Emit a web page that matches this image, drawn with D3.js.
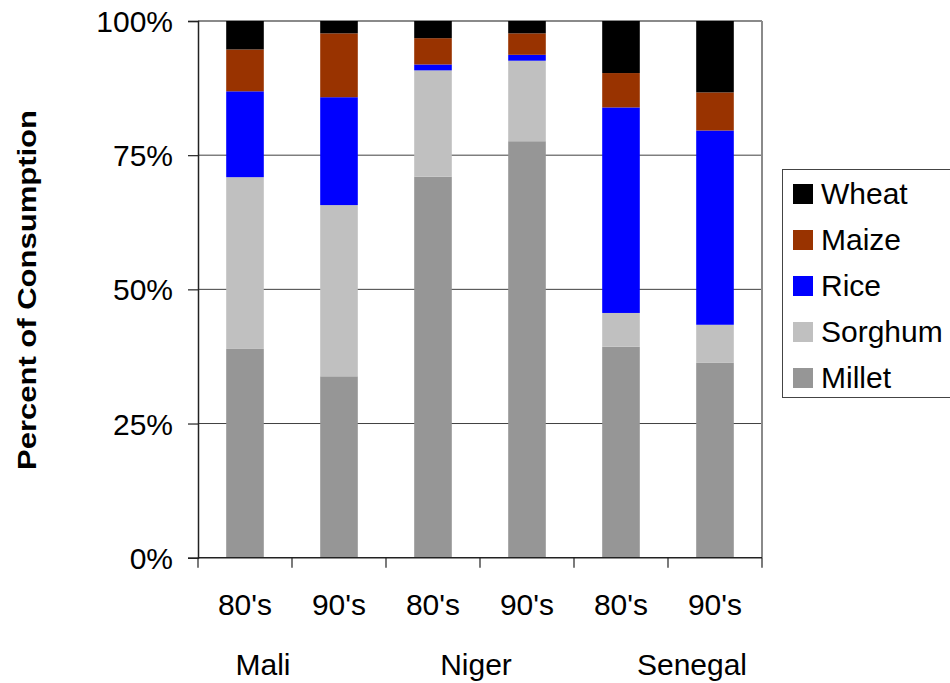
<!DOCTYPE html>
<html>
<head>
<meta charset="utf-8">
<script src="https://cdn.jsdelivr.net/npm/d3@7"></script>
<style>
  html, body { margin: 0; padding: 0; background: #fff; }
  svg { display: block; font-family: Arial, "Liberation Sans", sans-serif; }
</style>
</head>
<body>
<svg id="chart" width="950" height="683"></svg>
<script>
// ---- data ----
const decades = ["80's", "90's", "80's", "90's", "80's", "90's"];
const countries = ["Mali", "Niger", "Senegal"];
const countryOffsets = [-29, -4, 24];
const seriesNames = ["Millet", "Sorghum", "Rice", "Maize", "Wheat"];
const millet  = [38.9, 33.8, 71.0, 77.6, 39.3, 36.3];
const sorghum = [32.0, 31.9, 19.8, 15.0,  6.3,  7.1];
const rice    = [16.0, 20.1,  1.1,  1.1, 38.3, 36.2];
const maize   = [ 7.8, 11.9,  4.9,  4.0,  6.4,  7.1];
const wheat   = [ 5.3,  2.3,  3.2,  2.3,  9.7, 13.3];
const yTicks = [0, 25, 50, 75, 100];
const yTickLabels = ["0%", "25%", "50%", "75%", "100%"];
const colors = { Millet: "#969696", Sorghum: "#c0c0c0", Rice: "#0000ff", Maize: "#993300", Wheat: "#000000" };

const seriesValues = { Millet: millet, Sorghum: sorghum, Rice: rice, Maize: maize, Wheat: wheat };
const rows = decades.map((d, i) => {
  const r = { idx: i };
  seriesNames.forEach(s => r[s] = seriesValues[s][i]);
  return r;
});

// ---- layout ----
const L = 198, R = 762, T = 21, B = 557.7;
const svg = d3.select("#chart");

const x = d3.scaleBand().domain(d3.range(decades.length)).range([L, R])
  .paddingInner(0.6).paddingOuter(0.3);
const y = d3.scaleLinear().domain([0, 100]).range([B, T]);

// gridlines
svg.append("g").selectAll("line").data(yTicks.filter(t => t > 0 && t < 100)).join("line")
  .attr("x1", L).attr("x2", R).attr("y1", d => y(d)).attr("y2", d => y(d))
  .attr("stroke", "#404040").attr("stroke-width", 1);

// plot frame top/right
svg.append("line").attr("x1", L).attr("x2", R).attr("y1", T).attr("y2", T)
  .attr("stroke", "#8a8a8a").attr("stroke-width", 2);
svg.append("line").attr("x1", R).attr("x2", R).attr("y1", T).attr("y2", B)
  .attr("stroke", "#8a8a8a").attr("stroke-width", 2);

// bars
const stacked = d3.stack().keys(seriesNames)(rows);
svg.append("g").selectAll("g").data(stacked).join("g")
  .attr("fill", d => colors[d.key])
  .selectAll("rect").data(d => d).join("rect")
  .attr("x", d => x(d.data.idx))
  .attr("width", x.bandwidth())
  .attr("y", d => y(d[1]))
  .attr("height", d => y(d[0]) - y(d[1]));

// y axis
const yAxis = d3.axisLeft(y).tickValues(yTicks)
  .tickFormat((d, i) => yTickLabels[i]).tickSize(10).tickPadding(15);
const gy = svg.append("g").attr("transform", `translate(${L},0)`).call(yAxis);
gy.select(".domain").attr("stroke", "#222").attr("stroke-width", 1.5);
gy.selectAll(".tick line").attr("stroke", "#222").attr("stroke-width", 1.2);
gy.selectAll(".tick text").attr("font-size", 30).attr("fill", "#000")
  .attr("font-family", "Arial, 'Liberation Sans', sans-serif").attr("dy", "0.35em");

// x axis (ticks at category boundaries)
const bounds = d3.range(decades.length + 1).map(i => L + i * x.step());
const gx = svg.append("g");
gx.append("line").attr("x1", L).attr("x2", R).attr("y1", B).attr("y2", B)
  .attr("stroke", "#222").attr("stroke-width", 1.5);
gx.selectAll("line.tk").data(bounds).join("line").attr("class", "tk")
  .attr("x1", d => d).attr("x2", d => d).attr("y1", B).attr("y2", B + 10)
  .attr("stroke", "#222").attr("stroke-width", 1.2);
gx.selectAll("text.dec").data(decades).join("text").attr("class", "dec")
  .attr("x", (d, i) => x(i) + x.bandwidth() / 2).attr("y", 615)
  .attr("text-anchor", "middle").attr("font-size", 30).text(d => d);
gx.selectAll("text.cty").data(countries).join("text").attr("class", "cty")
  .attr("x", (d, i) => (x(2 * i) + x(2 * i + 1) + x.bandwidth()) / 2 + countryOffsets[i])
  .attr("y", 675)
  .attr("text-anchor", "middle").attr("font-size", 30).text(d => d);

// y title
svg.append("text")
  .attr("transform", "translate(36,290) rotate(-90)")
  .attr("text-anchor", "middle").attr("font-size", 26).attr("font-weight", "bold")
  .attr("textLength", 360).attr("lengthAdjust", "spacingAndGlyphs")
  .text("Percent of Consumption");

// legend
const lg = svg.append("g");
lg.append("rect").attr("x", 782.5).attr("y", 169.5).attr("width", 200).attr("height", 228)
  .attr("fill", "#fff").attr("stroke", "#444").attr("stroke-width", 1);
const legendItems = seriesNames.slice().reverse();
const li = lg.selectAll("g.item").data(legendItems).join("g").attr("class", "item")
  .attr("transform", (d, i) => `translate(793,${184 + i * 46})`);
li.append("rect").attr("width", 20).attr("height", 20).attr("fill", d => colors[d]);
li.append("text").attr("x", 28).attr("y", 19.5).attr("font-size", 30).text(d => d);
</script>
</body>
</html>
